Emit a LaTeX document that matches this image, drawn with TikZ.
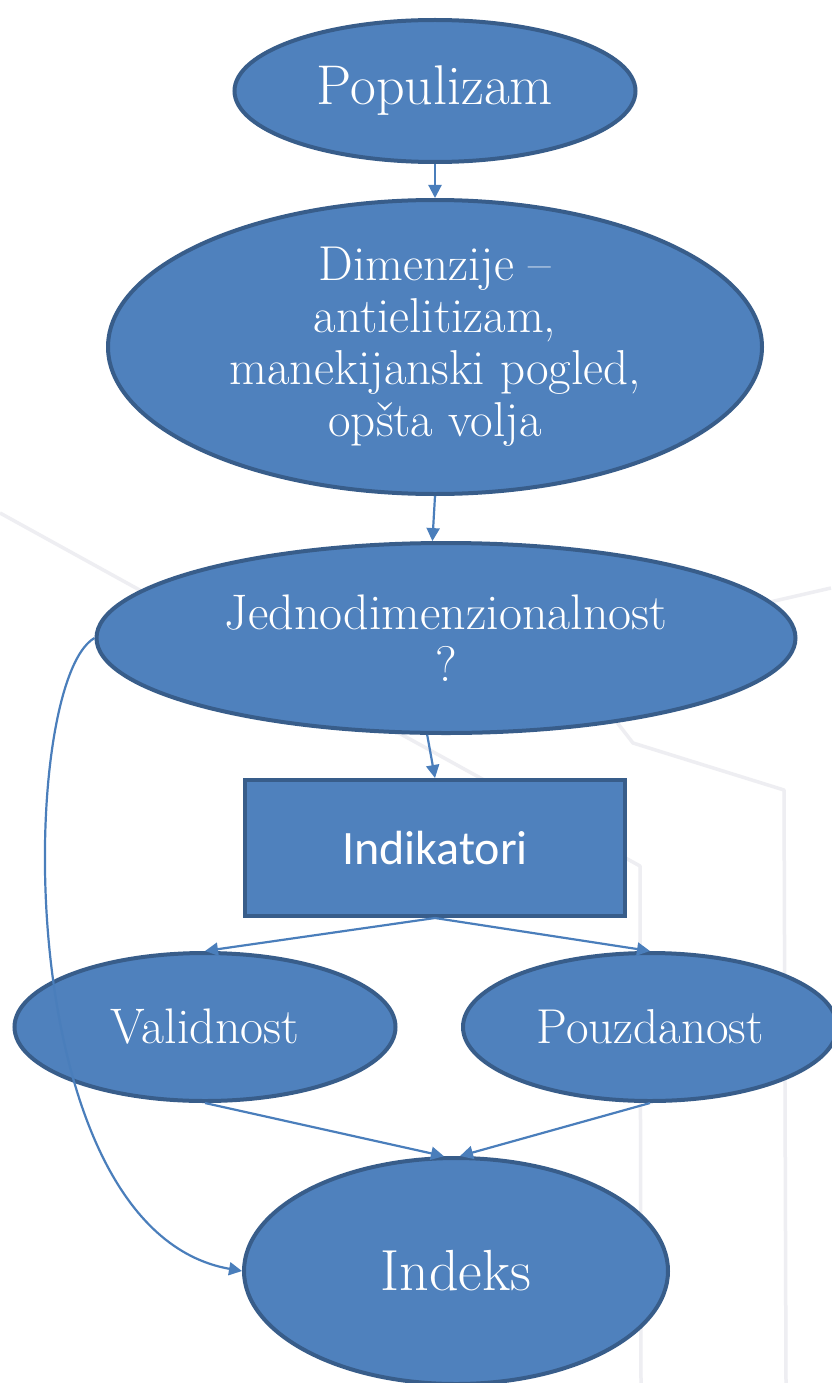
\documentclass[tikz,border=0pt]{standalone}
\usepackage{fontspec}
\newfontfamily\carlito{Carlito}
\usetikzlibrary{shapes.geometric,arrows.meta}
\definecolor{boxfill}{HTML}{4F81BD}
\definecolor{boxline}{HTML}{385D8A}
\definecolor{arrowc}{HTML}{4A7EBB}
\definecolor{bggray}{HTML}{EEEEF2}
\tikzset{
  blob/.style={ellipse, draw=boxline, fill=boxfill, line width=4pt, inner sep=0pt, text=white, align=center},
  rectbox/.style={rectangle, draw=boxline, fill=boxfill, line width=4pt, inner sep=0pt, text=white, align=center},
  conn/.style={draw=arrowc, line width=2.2pt, -{Triangle[length=13pt,width=13pt]}},
  bgline/.style={draw=bggray, line width=3.5pt, line join=round}
}
\begin{document}
\begin{tikzpicture}[x=1pt,y=-1pt]
\useasboundingbox (0,0) rectangle (831,1383);
\fill[white] (0,0) rectangle (831,1383);
% faint background decoration
\draw[bgline] (0,513) -- (640,866) -- (641,1383);
\draw[bgline] (831,588) -- (770,602) -- (612,716) -- (633,743) -- (784,790) -- (786,1383);
% nodes
\node[blob, minimum width=401pt, minimum height=142pt, font=\fontsize{56}{62}\selectfont] (pop) at (435,91) {Populizam};
\node[blob, minimum width=654pt, minimum height=294pt, font=\fontsize{49}{52}\selectfont] (dim) at (435,347) {Dimenzije --\\antielitizam,\\manekijanski pogled,\\opšta volja};
\node[blob, minimum width=699pt, minimum height=190pt, font=\fontsize{50}{52}\selectfont] (jed) at (446,638) {Jednodimenzionalnost\\?};
\node[rectbox, minimum width=380pt, minimum height=136pt, font=\carlito\fontsize{48}{54}\selectfont] (ind) at (435,848) {Indikatori};
\node[blob, minimum width=381pt, minimum height=148pt, font=\fontsize{50}{56}\selectfont] (val) at (205,1027) {Validnost};
\node[blob, minimum width=374pt, minimum height=148pt, font=\fontsize{49}{56}\selectfont] (pou) at (650,1027) {Pouzdanost};
\node[blob, minimum width=424pt, minimum height=226pt, font=\fontsize{58}{64}\selectfont] (idx) at (456,1271) {Indeks};
% connectors
\draw[conn] (pop.south) -- (dim.north);
\draw[conn] (dim.south) -- (jed.98);
\draw[conn] (jed.259) -- (ind.north);
\draw[conn] (ind.south) -- (val.north);
\draw[conn] (ind.south) -- (pou.north);
\draw[conn] (val.south) -- (idx.96);
\draw[conn] (pou.south) -- (idx.88);
\draw[conn] (jed.west) .. controls +(-77,44) and +(-234,-41) .. (idx.west);
\end{tikzpicture}
\end{document}
